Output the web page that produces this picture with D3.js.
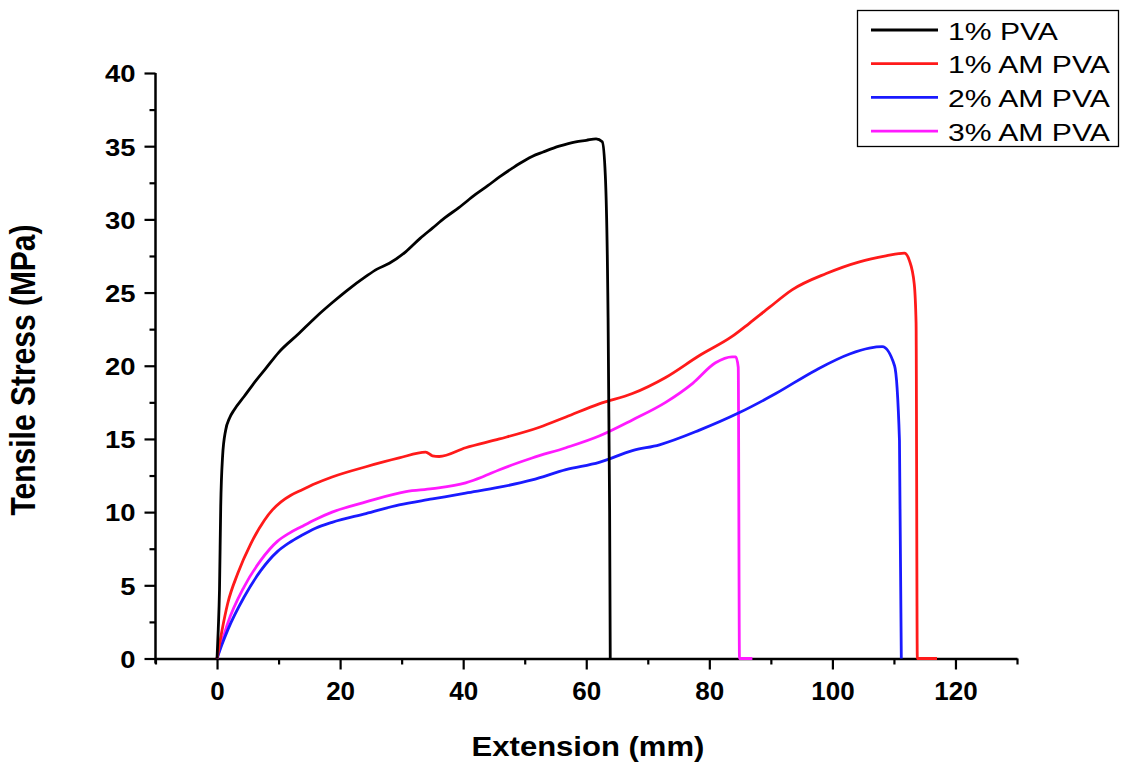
<!DOCTYPE html>
<html>
<head>
<meta charset="utf-8">
<script src="https://cdn.jsdelivr.net/npm/d3@7"></script>
<style>
  body { margin: 0; background: #fff; }
  svg { display: block; }
  text { font-family: "Liberation Sans", Arial, sans-serif; fill: #000; }
</style>
</head>
<body>
<svg id="svg" width="1121" height="767"></svg>
<script>
// series: extension (mm) and tensile stress (MPa)
const pva1X = [0, 0.2, 0.4, 0.6, 0.9, 1.4, 2.0, 2.8, 4.4, 5.8, 7.9, 10, 13.3, 16, 18.7, 21, 24.2, 26, 28, 30.7, 33, 35, 37, 39.3, 42, 44, 45.9, 48, 49.1, 51.2, 53, 55.6, 58.3, 60, 61.6, 62.6, 63.1, 63.5, 63.8, 63.9];
const pva1Y = [0, 2, 4.7, 10.4, 13.8, 15.6, 16.4, 17.0, 17.9, 18.7, 19.8, 20.9, 22.2, 23.3, 24.3, 25.1, 26.1, 26.6, 27.0, 27.8, 28.7, 29.4, 30.1, 30.8, 31.7, 32.3, 32.9, 33.5, 33.8, 34.3, 34.6, 35.0, 35.3, 35.4, 35.5, 35.3, 33, 25, 10, 0];

const am1X = [0, 0.8, 1.73, 3.36, 5.5, 7.7, 9, 10.4, 12, 13.7, 16, 18.7, 24.2, 29.6, 33.9, 35, 36.1, 40.4, 45.9, 52.4, 56.7, 62.1, 67.5, 72.9, 78.4, 83.7, 86.5, 89.8, 93.5, 99, 104.4, 108.7, 111.7, 112.5, 113.3, 113.6, 113.8, 117];
const am1Y = [0, 1.9, 3.76, 5.8, 7.85, 9.45, 10.15, 10.7, 11.15, 11.5, 11.95, 12.4, 13.1, 13.7, 14.1, 13.85, 13.8, 14.4, 15.0, 15.8, 16.5, 17.4, 18.1, 19.2, 20.7, 22.0, 22.9, 24.0, 25.2, 26.3, 27.1, 27.5, 27.7, 27.2, 25.6, 22.9, 0, 0];

const am2X = [0, 0.8, 1.73, 4.4, 7.1, 9.8, 11.7, 13.7, 16, 18.7, 24.2, 29.6, 35, 40.4, 45.9, 51.2, 56.7, 62.1, 67.5, 71.9, 78.4, 84.9, 90.8, 97.3, 102.8, 106, 108.1, 110.1, 110.9, 111.2];
const am2Y = [0, 0.95, 1.94, 4.2, 6.0, 7.3, 7.9, 8.4, 8.9, 9.3, 9.9, 10.5, 10.9, 11.3, 11.7, 12.2, 12.9, 13.4, 14.2, 14.6, 15.6, 16.8, 18.1, 19.7, 20.8, 21.2, 21.3, 20.0, 14.9, 0];

const am3X = [0, 0.8, 1.73, 4.4, 7.1, 9.8, 11.7, 13.7, 16, 18.7, 24.2, 30.7, 35, 40.4, 43.1, 45.9, 51.2, 56.7, 62.1, 67.5, 72.9, 77.3, 81, 83.7, 84.3, 84.7, 84.9, 87];
const am3Y = [0, 1.15, 2.4, 4.9, 6.7, 8.0, 8.55, 9.0, 9.5, 10.0, 10.7, 11.4, 11.6, 12.0, 12.4, 12.9, 13.7, 14.4, 15.2, 16.3, 17.5, 18.8, 20.2, 20.6, 20.6, 19.9, 0, 0];

const seriesNames = ["1% PVA", "1% AM PVA", "2% AM PVA", "3% AM PVA"];
const seriesColors = ["#000000", "#ff1a1a", "#1a1aff", "#ff1aff"];

const xMajorTicks = [0, 20, 40, 60, 80, 100, 120];
const xMinorTicks = [-10, 10, 30, 50, 70, 90, 110, 130];
const yMajorTicks = [0, 5, 10, 15, 20, 25, 30, 35, 40];
const yMinorTicks = [2.5, 7.5, 12.5, 17.5, 22.5, 27.5, 32.5, 37.5];

const svg = d3.select("#svg");

const x = d3.scaleLinear().domain([-10, 130]).range([155.5, 1017]);
const y = d3.scaleLinear().domain([0, 40]).range([658.5, 73]);

// minor ticks first, then the major axes on top
svg.append("g")
  .attr("transform", `translate(0,${y(0)})`)
  .call(d3.axisBottom(x).tickValues(xMinorTicks).tickSize(6).tickSizeOuter(0).tickFormat(""))
  .call(g => g.select(".domain").remove());

svg.append("g")
  .attr("transform", `translate(${x(-10)},0)`)
  .call(d3.axisLeft(y).tickValues(yMinorTicks).tickSize(6).tickSizeOuter(0).tickFormat(""))
  .call(g => g.select(".domain").remove());

const xAxis = svg.append("g")
  .attr("transform", `translate(0,${y(0)})`)
  .call(d3.axisBottom(x).tickValues(xMajorTicks).tickSize(11).tickSizeOuter(0));

const yAxis = svg.append("g")
  .attr("transform", `translate(${x(-10)},0)`)
  .call(d3.axisLeft(y).tickValues(yMajorTicks).tickSize(11).tickSizeOuter(0));

svg.selectAll(".tick line").attr("stroke", "#000").attr("stroke-width", 2.2);
xAxis.select(".domain").attr("stroke", "#000").attr("stroke-width", 2.5);
yAxis.select(".domain").attr("stroke", "#000").attr("stroke-width", 2.5)
  .attr("d", `M0,${y(40)}V${y(0) + 5}`);

xAxis.selectAll("text")
  .attr("y", 41).attr("dy", 0)
  .attr("font-size", 26).attr("font-weight", "bold").attr("fill", "#000");

yAxis.selectAll("text")
  .attr("x", -20 / 1.12).attr("dy", "0.36em")
  .attr("transform", "scale(1.12,1)")
  .attr("font-size", 24.5).attr("font-weight", "bold").attr("fill", "#000");

// axis titles
svg.append("text")
  .attr("transform", "translate(588,756) scale(1.15,1)")
  .attr("text-anchor", "middle")
  .attr("font-size", 27).attr("font-weight", "bold")
  .text("Extension (mm)");

svg.append("text")
  .attr("transform", "translate(35,370) scale(1.15,1) rotate(-90)")
  .attr("text-anchor", "middle")
  .attr("font-size", 30).attr("font-weight", "bold")
  .text("Tensile Stress (MPa)");

// curves
const series = [
  { xs: pva1X, ys: pva1Y },
  { xs: am1X, ys: am1Y },
  { xs: am2X, ys: am2Y },
  { xs: am3X, ys: am3Y },
].map((s, i) => ({
  name: seriesNames[i],
  color: seriesColors[i],
  points: s.xs.map((v, j) => [v, s.ys[j]])
}));

const line = d3.line()
  .x(d => x(d[0]))
  .y(d => y(d[1]))
  .curve(d3.curveMonotoneX);

// draw back to front so black sits on top like the original
svg.append("g").selectAll("path")
  .data(series.slice().reverse())
  .join("path")
  .attr("d", d => line(d.points))
  .attr("fill", "none")
  .attr("stroke", d => d.color)
  .attr("stroke-width", 2.8)
  .attr("stroke-linejoin", "round");

// legend
const legend = svg.append("g");
legend.append("rect")
  .attr("x", 857.5).attr("y", 10.5)
  .attr("width", 261).attr("height", 136)
  .attr("fill", "#fff").attr("stroke", "#000").attr("stroke-width", 1.3);

const rows = legend.selectAll("g.row")
  .data(series)
  .join("g")
  .attr("class", "row")
  .attr("transform", (d, i) => `translate(0,${30 + i * 33.7})`);

rows.append("line")
  .attr("x1", 871).attr("x2", 938)
  .attr("stroke", d => d.color)
  .attr("stroke-width", 2.8);

rows.append("text")
  .attr("transform", "translate(948,9.5) scale(1.22,1)")
  .attr("font-size", 24.7)
  .text(d => d.name);
</script>
</body>
</html>
